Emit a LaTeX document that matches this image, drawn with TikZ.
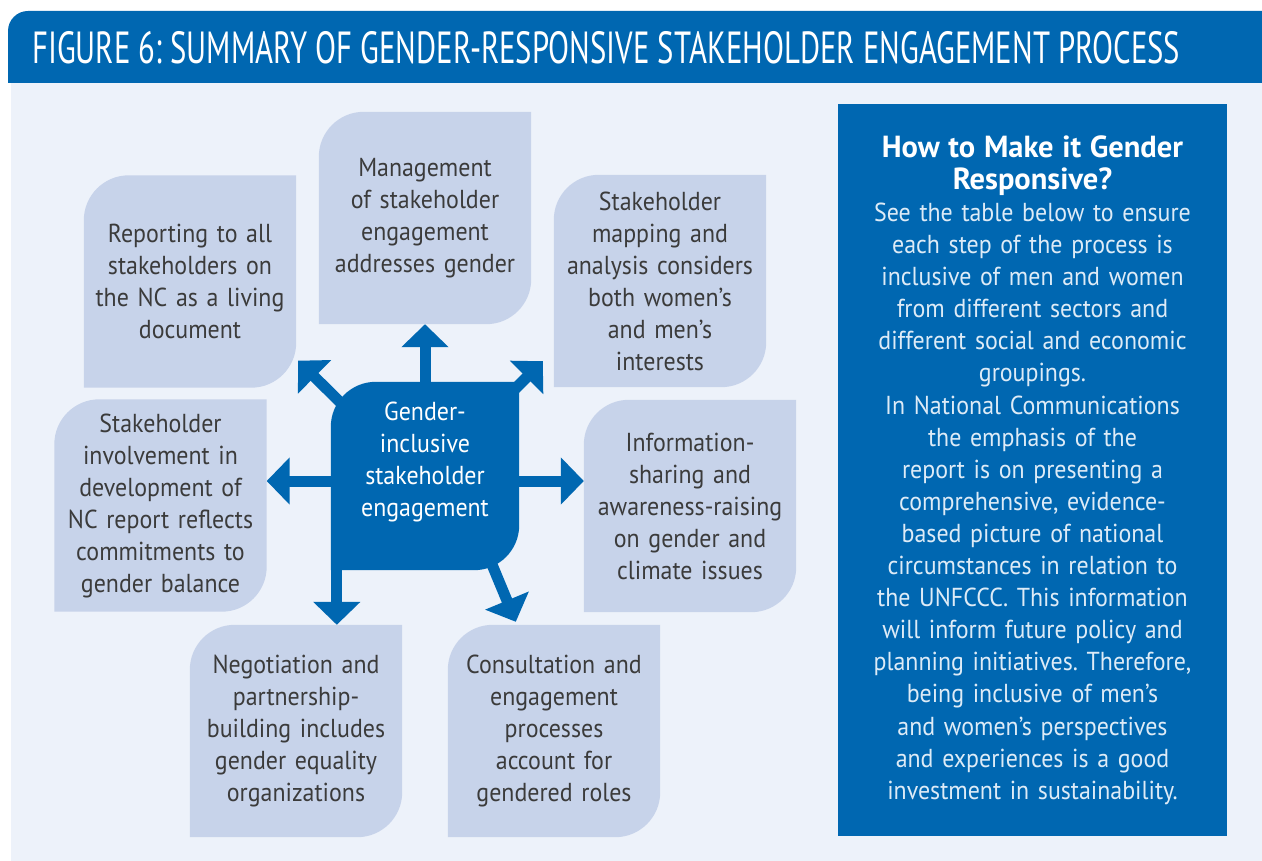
\documentclass[tikz,border=0pt]{standalone}
\usepackage{fontspec}
\usepackage{graphicx}
\setmainfont[FakeStretch=0.92]{PT Sans}
\newfontfamily\titlefont{PT Sans}
\usetikzlibrary{arrows.meta,backgrounds,calc}
\frenchspacing

\definecolor{figblue}{HTML}{0067B1}
\definecolor{boxfill}{HTML}{C7D3EA}
\definecolor{pagebg}{HTML}{EDF2FA}
\definecolor{boxtext}{HTML}{3B3B3B}
\definecolor{paneltext}{HTML}{DDEBF7}

\begin{document}
\begin{tikzpicture}[x=1pt, y=1pt,
    leaf/.style={minimum width=212pt, minimum height=212pt, text width=208pt,
      align=center, inner sep=0pt, text=boxtext,
      font=\fontsize{26}{32}\selectfont},
    hubbox/.style={minimum width=188pt, minimum height=188pt, inner sep=0pt},
    bigarrow/.style={figblue, line width=11pt,
      -{Triangle[width=46pt, length=23pt]}},
  ]
  \useasboundingbox (0,0) rectangle (1262,-861);

  % Title bar
  \fill[figblue] (8,-83) -- (8,-31) arc[start angle=180, end angle=90, radius=20pt]
    -- (1262,-11) -- (1262,-83) -- cycle;
  \node[anchor=west, text=white, inner sep=0pt] (title) at (32,-48)
    {\titlefont\fontsize{45}{45}\selectfont
     \resizebox{1148pt}{\height}{FIGURE 6: SUMMARY OF GENDER-RESPONSIVE STAKEHOLDER ENGAGEMENT PROCESS}};

  % The steps round the hub
  \node[leaf] (rep) at (190,-281.5) {Reporting to all\\stakeholders on\\the NC as a living\\document};
  \node[leaf] (mgmt) at (425,-218) {Management\\of stakeholder\\engagement\\addresses gender};
  \node[leaf] (map) at (660,-281) {Stakeholder\\mapping and\\analysis considers\\both women's\\and men's\\interests};
  \node[leaf] (inv) at (160.5,-505.5) {Stakeholder\\involvement in\\development of\\NC report reflects\\commitments to\\gender balance};
  \node[leaf] (info) at (690,-506) {Information-\\sharing and\\awareness-raising\\on gender and\\climate issues};
  \node[leaf] (neg) at (296,-731) {Negotiation and\\partnership-\\building includes\\gender equality\\organizations};
  \node[leaf] (cons) at (554,-731) {Consultation and\\engagement\\processes\\account for\\gendered roles};

  % The hub
  \node[hubbox, label={[name=hubtext, yshift=14pt, text width=180pt, align=center,
      text=white, font=\fontsize{26}{32}\selectfont]center:{Gender-\\inclusive\\stakeholder\\engagement}}]
    (hub) at (425,-476) {};

  % Side panel
  \node[fill=figblue, minimum width=389pt, minimum height=732pt, text width=380pt,
    align=center, inner sep=0pt, text=paneltext,
    font=\fontsize{26}{32.1}\selectfont] (panel) at (1032.5,-470)
    {{\color{white}\titlefont\bfseries\fontsize{30.5}{32.1}\selectfont How to Make it Gender\\Responsive?}\\
     See the table below to ensure\\each step of the process is\\inclusive of men and women\\
     from different sectors and\\different social and economic\\groupings.\\
     In National Communications\\the emphasis of the\\report is on presenting a\\
     comprehensive, evidence-\\based picture of national\\circumstances in relation to\\
     the UNFCCC. This information\\will inform future policy and\\planning initiatives. Therefore,\\
     being inclusive of men's\\and women's perspectives\\and experiences is a good\\
     investment in sustainability.};

  % Draw the shapes behind the texts
  \begin{scope}[on background layer]
    \fill[white] (0,0) rectangle (1262,-861);
    \fill[pagebg] (11,-83) rectangle (1262,-861);
    \foreach \n in {rep,mgmt,map,inv,info,neg,cons}
      \fill[boxfill] (\n.south west) -- ([yshift=-45pt]\n.north west)
        arc[start angle=180, end angle=90, radius=45pt] -- (\n.north east)
        -- ([yshift=45pt]\n.south east)
        arc[start angle=0, end angle=-90, radius=45pt] -- cycle;
    \fill[figblue] (hub.south west) -- ([yshift=-45pt]hub.north west)
      arc[start angle=180, end angle=90, radius=45pt] -- (hub.north east)
      -- ([yshift=45pt]hub.south east)
      arc[start angle=0, end angle=-90, radius=45pt] -- cycle;
  \end{scope}

  % Arrows out of the hub
  \coordinate (lft) at ([yshift=-5pt]hub.west);
  \coordinate (rgt) at ([yshift=-5pt]hub.east);
  \coordinate (dl) at ([xshift=6pt]hub.south west);
  \coordinate (ulstart) at ($(hub.north west)+(19,-30)$);
  \coordinate (ultip) at ($(rep.south east)+(2,27)$);
  \coordinate (urstart) at ($(hub.north east)+(-14,-17)$);
  \coordinate (urtip) at ($(map.south west)+(-11,26)$);
  \coordinate (drstart) at ($(hub.south east)+(-29,10)$);
  \coordinate (drtip) at ($(cons.north west)+(68,3)$);

  \draw[bigarrow] (hub.north) -- (mgmt.south);
  \draw[bigarrow] (lft) -- (lft -| inv.east);
  \draw[bigarrow] (rgt) -- (rgt -| info.west);
  \draw[bigarrow] (dl) -- (dl |- neg.north);
  \draw[bigarrow] (ulstart) -- (ultip);
  \draw[bigarrow] (urstart) -- (urtip);
  \draw[bigarrow] (drstart) -- (drtip);
\end{tikzpicture}
\end{document}
